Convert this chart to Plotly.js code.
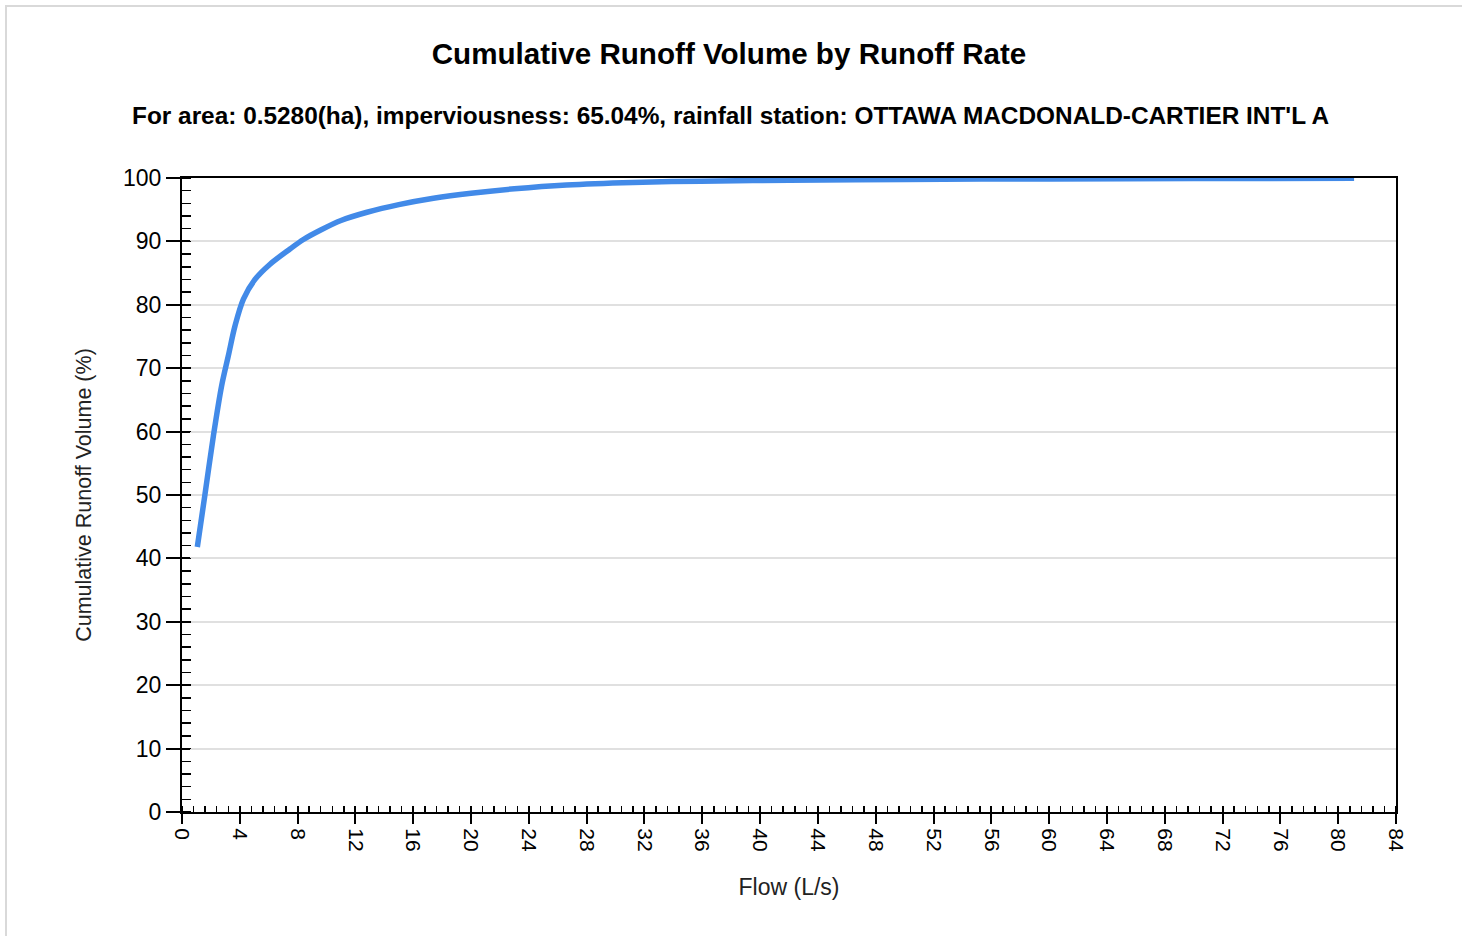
<!DOCTYPE html>
<html>
<head>
<meta charset="utf-8">
<script src="https://cdn.plot.ly/plotly-3.0.1.min.js"></script>
<style>
html,body{margin:0;padding:0;background:#fff;overflow:hidden;}
#chart{position:absolute;left:0;top:0;width:1462px;height:936px;}
#frame{position:absolute;left:5px;top:5px;width:1480px;height:960px;border:2px solid #d9d9d9;pointer-events:none;z-index:10;}
</style>
</head>
<body>
<div id="chart"></div>
<div id="frame"></div>
<script>
const flow = [1.06, 1.59, 2.17, 2.74, 3.2, 3.67, 4.25, 5.05, 6.09, 7.47, 8.4, 9.6, 11.0, 12.8, 15.0, 17.4, 20.0, 23.0, 26.6, 31.2, 35.9, 42, 50, 60, 70, 81.1];
const cumVolume = [41.8, 50.1, 59.3, 67.2, 71.9, 76.7, 80.9, 84.0, 86.4, 88.8, 90.3, 91.8, 93.3, 94.6, 95.8, 96.8, 97.6, 98.3, 98.9, 99.3, 99.5, 99.65, 99.78, 99.86, 99.92, 99.95];

const titleText = 'Cumulative Runoff Volume by Runoff Rate';
const subtitleText = "For area: 0.5280(ha), imperviousness: 65.04%, rainfall station: OTTAWA MACDONALD-CARTIER INT'L A";
const xTitle = 'Flow (L/s)';
const yTitle = 'Cumulative Runoff Volume (%)';

const FONT = 'Arial, "Liberation Sans", sans-serif';

const traces = [
  {
    x: flow, y: cumVolume, type: 'scatter', mode: 'lines',
    line: {color: '#428ae8', width: 5.5, shape: 'spline', smoothing: 0.9},
    hoverinfo: 'x+y', showlegend: false
  },
  {
    x: flow, y: cumVolume, xaxis: 'x2', yaxis: 'y2', type: 'scatter', mode: 'lines',
    line: {color: 'rgba(0,0,0,0)', width: 0}, hoverinfo: 'skip', showlegend: false
  }
];

const layout = {
  width: 1462, height: 936,
  paper_bgcolor: '#ffffff', plot_bgcolor: '#ffffff',
  margin: {l: 182, r: 66, t: 178, b: 124, pad: 0},
  font: {family: FONT, color: '#000'},
  showlegend: false,
  title: {
    text: '<b>' + titleText + '</b>',
    font: {family: FONT, size: 29.6, color: '#000'},
    x: 729/1462, xref: 'container', xanchor: 'center',
    y: 1 - 54/936, yref: 'container', yanchor: 'middle'
  },
  annotations: [{
    text: '<b>' + subtitleText + '</b>',
    xref: 'paper', yref: 'paper', x: (730-182)/1214, y: (812-116)/(812-178),
    xanchor: 'center', yanchor: 'middle', showarrow: false,
    font: {family: FONT, size: 24.4, color: '#000'}
  }],
  xaxis: {
    range: [0, 84], tick0: 0, dtick: 4, tickmode: 'linear',
    ticks: 'outside', ticklen: 10, tickwidth: 2, tickcolor: '#000',
    tickangle: 90, tickfont: {family: FONT, size: 21, color: '#000'},
    showline: true, linecolor: '#000', linewidth: 2, mirror: true,
    showgrid: false, zeroline: false,
    minor: {dtick: 0.8, tick0: 0, ticks: 'inside', ticklen: 6, tickwidth: 1.5, tickcolor: '#000', showgrid: false},
    title: {text: xTitle, font: {family: FONT, size: 23, color: '#222'}, standoff: 28}
  },
  yaxis: {
    range: [0, 100], tick0: 0, dtick: 10, tickmode: 'linear',
    ticks: 'outside', ticklen: 14, tickwidth: 2, tickcolor: '#000',
    tickfont: {family: FONT, size: 23, color: '#000'},
    showline: true, linecolor: '#000', linewidth: 2, mirror: true,
    showgrid: true, gridcolor: '#e0e0e0', gridwidth: 2, zeroline: false,
    minor: {dtick: 2, tick0: 0, ticks: 'inside', ticklen: 9, tickwidth: 1.5, tickcolor: '#000', showgrid: false},
    title: {text: yTitle, font: {family: FONT, size: 21.5, color: '#222'}, standoff: 26}
  },
  xaxis2: {
    overlaying: 'x', range: [0, 84], tick0: 0, dtick: 4, tickmode: 'linear',
    ticks: 'inside', ticklen: 6, tickwidth: 2, tickcolor: '#000',
    showticklabels: false, showline: false, showgrid: false, zeroline: false, side: 'bottom'
  },
  yaxis2: {
    overlaying: 'y', range: [0, 100], tick0: 0, dtick: 10, tickmode: 'linear',
    ticks: 'inside', ticklen: 8, tickwidth: 2, tickcolor: '#000',
    showticklabels: false, showline: false, showgrid: false, zeroline: false, side: 'left'
  }
};

Plotly.newPlot('chart', traces, layout, {displayModeBar: false, staticPlot: true});
</script>
</body>
</html>
